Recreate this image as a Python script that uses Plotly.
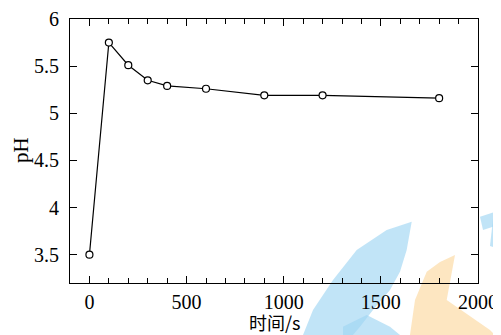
import plotly.graph_objects as go

time_s = [0, 100, 200, 300, 400, 600, 900, 1200, 1800]
ph = [3.5, 5.75, 5.51, 5.35, 5.29, 5.26, 5.19, 5.19, 5.16]
x_ticks = [0, 500, 1000, 1500, 2000]
y_ticks = [3.5, 4, 4.5, 5, 5.5, 6]

# page body has an 8px margin; compensate so the plot lands where the reference has it
OFF = 8
W, H = 501 - OFF, 335 - OFF
PL, PR, PT, PB = 70, 478, 19, 283          # plot area in window pixels
L, T = PL - OFF, PT - OFF
R, B = 501 - PR, 335 - PB
PW, PH = PR - PL, PB - PT

def px(x, y):
    return (x - PL) / PW, (PB - y) / PH

def path(pts):
    p = [px(a, b) for a, b in pts]
    return "M " + " L ".join(f"{a:.4f},{b:.4f}" for a, b in p) + " Z"

blue = "rgba(160,214,242,0.65)"
orange = "rgba(252,216,160,0.65)"
wm = [
    ([(411.7, 221.7), (386.7, 230), (356.7, 250), (333, 280), (313, 310), (303, 335),
      (353, 335), (360, 326.7), (373, 310), (390, 290), (400, 271.7), (406.7, 250)], blue),
    ([(343, 326.7), (366.7, 315), (390, 326.7), (400, 335), (343, 335)], blue),
    ([(480, 216.7), (501, 210), (501, 224), (483, 230)], blue),
    ([(496.7, 198), (501, 197), (501, 250), (490, 246), (494, 210)], blue),
    ([(455, 255), (446.7, 300), (490, 330), (495, 335), (410, 335), (415, 300),
      (426.7, 271.7), (440, 262)], orange),
]
shapes = [dict(type="path", xref="paper", yref="paper", path=path(p),
               fillcolor=c, line=dict(width=0), layer="below") for p, c in wm]

fig = go.Figure()
fig.add_trace(go.Scatter(
    x=time_s, y=ph, mode="lines+markers",
    line=dict(color="black", width=1.2),
    marker=dict(symbol="circle", size=7, color="white",
                line=dict(color="black", width=1.2)),
    showlegend=False, cliponaxis=False))

font_fam = "Liberation Serif, Times New Roman, Noto Sans CJK SC, serif"
xt = px(274, 322)
yt = px(21, 150)
fig.update_layout(
    width=W, height=H,
    margin=dict(l=L, r=R, t=T, b=B),
    paper_bgcolor="white", plot_bgcolor="rgba(0,0,0,0)",
    font=dict(family=font_fam, size=20, color="black"),
    shapes=shapes,
    annotations=[
        dict(text="时间/s", xref="paper", yref="paper", x=xt[0], y=xt[1],
             xanchor="center", yanchor="middle", showarrow=False,
             font=dict(size=18, family="Noto Sans CJK SC, Liberation Serif, serif")),
        dict(text="pH", xref="paper", yref="paper", x=yt[0], y=yt[1],
             xanchor="center", yanchor="middle", showarrow=False, textangle=-90,
             font=dict(size=21)),
    ],
    xaxis=dict(range=[-100, 2000], tickvals=x_ticks, ticks="inside", ticklen=7,
               tickwidth=1, tickcolor="black", showline=True, linecolor="black",
               linewidth=1.2, mirror="ticks", showgrid=False, zeroline=False,
               automargin=False,
               minor=dict(dtick=100, tick0=0, ticks="inside", ticklen=5,
                          tickcolor="black", showgrid=False),
               tickfont=dict(size=20), ticklabelstandoff=1),
    yaxis=dict(range=[3.2, 6], tickvals=y_ticks, ticks="inside", ticklen=7,
               tickwidth=1, tickcolor="black", showline=True, linecolor="black",
               linewidth=1.2, mirror="ticks", showgrid=False, zeroline=False,
               automargin=False,
               tickfont=dict(size=20), ticklabelstandoff=6),
)
fig.write_html("out.html")
